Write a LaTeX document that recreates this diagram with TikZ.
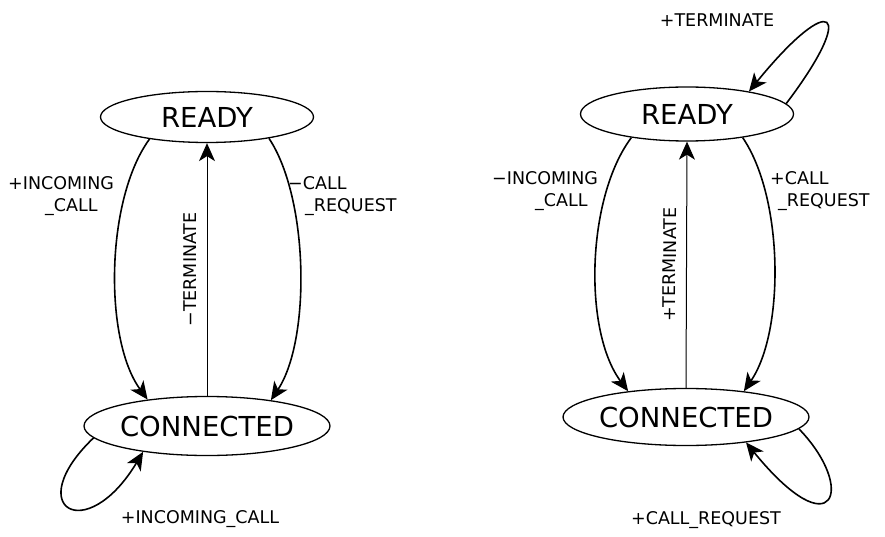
\documentclass[tikz,border=0pt]{standalone}
\usepackage{fontspec}
\setmainfont{DejaVu Sans}
\usetikzlibrary{shapes.geometric,arrows.meta}
\begin{document}
\begin{tikzpicture}[x=1pt,y=-1pt,
  state/.style={ellipse,draw,line width=1.3pt,inner sep=0pt,font=\fontsize{27.5}{30}\selectfont},
  lbl/.style={font=\fontsize{17.5}{22}\selectfont,inner sep=0pt,align=left},
  tip/.style={-{Stealth[length=18pt,width=16pt,inset=5pt]}},
  tr/.style={tip,line width=1.6pt},
  vt/.style={tip,line width=1pt}]
\useasboundingbox (0,0) rectangle (885,537);
% ---------------- left machine
\node[state,minimum width=213pt,minimum height=51pt] (rl) at (207,117) {READY};
\node[state,minimum width=212pt,minimum height=59pt] (cl) at (207,426) {CONNECTED};
\draw[tr] (rl.201) .. controls +(-44,60) and +(-44,-60) .. (cl.156);
\draw[tr] (rl.-19) .. controls +(40,60) and +(40,-60) .. (cl.22);
\draw[vt] (cl.north) -- node[lbl,midway,sloped,above=10pt] (tl) {−TERMINATE} (rl.south);
\draw[tr] (cl.186) .. controls +(-73,70) and +(-57,95) .. (cl.202);
\node[lbl,anchor=base west] (al) at (8,212) {+INCOMING\\\hspace*{37pt}\_CALL};
\node[lbl,anchor=base west] (bl) at (288,212) {−CALL\\\hspace*{17pt}\_REQUEST};
\node[lbl] (sl) at (200,519) {+INCOMING\_CALL};
% ---------------- right machine
\node[state,minimum width=213pt,minimum height=54pt] (rr) at (687,114) {READY};
\node[state,minimum width=212pt,minimum height=57pt] (cr) at (686,417) {CONNECTED};
\draw[tr] (rr.203) .. controls +(-45,60) and +(-45,-60) .. (cr.156);
\draw[tr] (rr.-23) .. controls +(41,60) and +(41,-60) .. (cr.24);
\draw[vt] (cr.north) -- node[lbl,midway,sloped,above=10pt] (tr2) {+TERMINATE} (rr.south);
\draw[tr] (rr.6) .. controls +(72,-95) and +(83,-102) .. (rr.20);
\draw[tr] (cr.-6) .. controls +(58,60) and +(88,108) .. (cr.-23);
\node[lbl,anchor=base west] (ar) at (492,207) {−INCOMING\\\hspace*{43pt}\_CALL};
\node[lbl,anchor=base west] (br) at (770,207) {+CALL\\\hspace*{8pt}\_REQUEST};
\node[lbl] (ur) at (717,20) {+TERMINATE};
\node[lbl] (sr) at (706,520) {+CALL\_REQUEST};
\end{tikzpicture}
\end{document}
